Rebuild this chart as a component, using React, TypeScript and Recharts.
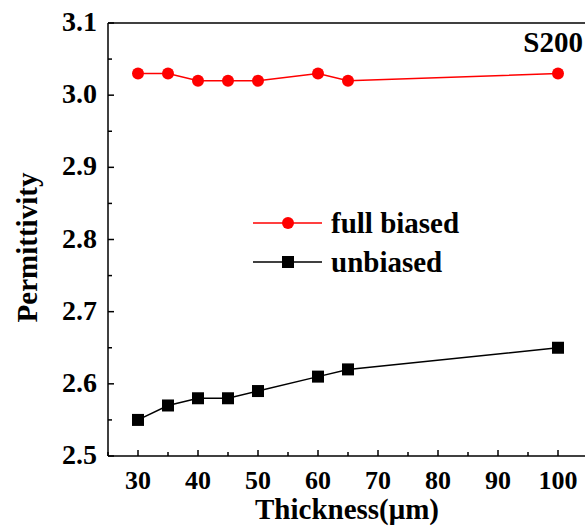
import { LineChart, Line, XAxis, YAxis, Legend, Label } from 'recharts';

const thickness = [30, 35, 40, 45, 50, 60, 65, 100];
const fullBiased = [3.03, 3.03, 3.02, 3.02, 3.02, 3.03, 3.02, 3.03];
const unbiased = [2.55, 2.57, 2.58, 2.58, 2.59, 2.61, 2.62, 2.65];

const xTicks = [25, 30, 35, 40, 45, 50, 55, 60, 65, 70, 75, 80, 85, 90, 95, 100, 105];
const yTicks = [2.5, 2.55, 2.6, 2.65, 2.7, 2.75, 2.8, 2.85, 2.9, 2.95, 3.0, 3.05, 3.1];

const FONT = 'Liberation Serif, Times New Roman, DejaVu Serif, serif';

const data = thickness.map((t, i) => ({
  t,
  full: fullBiased[i],
  unb: unbiased[i],
}));

const txt = { fontFamily: FONT, fontWeight: 700 };

// ticks point inward, labels only on the major ones
function XTick(props: any) {
  const { x, y, payload } = props;
  const major = Math.round(payload.value) % 10 === 0;
  return (
    <g>
      <line x1={x} x2={x} y1={y} y2={y - (major ? 6 : 4)} stroke="#000" strokeWidth={1.5} />
      {major && (
        <text x={x} y={y + 33} textAnchor="middle" style={txt} fontSize={26} fill="#000">
          {payload.value}
        </text>
      )}
    </g>
  );
}

function YTick(props: any) {
  const { x, y, payload } = props;
  const major = Math.round(payload.value * 100) % 10 === 0;
  return (
    <g>
      <line x1={x} x2={x + (major ? 6 : 4)} y1={y} y2={y} stroke="#000" strokeWidth={1.5} />
      {major && (
        <text x={x - 11} y={y + 8} textAnchor="end" style={txt} fontSize={28} fill="#000">
          {payload.value.toFixed(1)}
        </text>
      )}
    </g>
  );
}

function SquareDot(props: any) {
  const { cx, cy } = props;
  if (cx == null || cy == null) return null;
  return <rect x={cx - 6} y={cy - 6} width={12} height={12} fill="#000" />;
}

function LegendBox() {
  const rows = [
    { name: 'full biased', color: '#ff0000', shape: 'circle' },
    { name: 'unbiased', color: '#000', shape: 'square' },
  ];
  return (
    <svg width={240} height={80}>
      {rows.map((r, i) => {
        const y = 16 + i * 39;
        return (
          <g key={r.name}>
            <line x1={3} x2={72} y1={y} y2={y} stroke={r.color} strokeWidth={1.5} />
            {r.shape === 'circle' ? (
              <circle cx={38} cy={y} r={6} fill={r.color} />
            ) : (
              <rect x={32} y={y - 6} width={12} height={12} fill={r.color} />
            )}
            <text x={81} y={y + 10} style={txt} fontSize={29} fill="#000">
              {r.name}
            </text>
          </g>
        );
      })}
    </svg>
  );
}

export default function App() {
  return (
    <div style={{ position: 'absolute', left: 0, top: 0, width: 585, height: 530, overflow: 'hidden', background: '#fff' }}>
      <LineChart width={600} height={530} data={data} margin={{ top: 0, right: 12, bottom: 0, left: 0 }}>
        <XAxis
          xAxisId="top"
          orientation="top"
          dataKey="t"
          type="number"
          domain={[25, 105]}
          ticks={[]}
          height={23}
          axisLine={{ stroke: '#000', strokeWidth: 1.5 }}
          tickLine={false}
          tick={false}
        >
          <Label
            content={(p: any) => {
              const vb = p.viewBox;
              return (
                <text x={vb.x + 475} y={52} textAnchor="end" style={txt} fontSize={29} fill="#000">
                  S200
                </text>
              );
            }}
          />
        </XAxis>
        <XAxis
          dataKey="t"
          type="number"
          domain={[25, 105]}
          ticks={xTicks}
          interval={0}
          height={74}
          tickSize={0}
          tickMargin={0}
          tickLine={false}
          axisLine={{ stroke: '#000', strokeWidth: 1.5 }}
          tick={<XTick />}
        >
          <Label
            content={(p: any) => {
              const vb = p.viewBox;
              return (
                <text x={vb.x + vb.width / 2 - 1} y={519} textAnchor="middle" style={txt} fontSize={29} fill="#000">
                  Thickness(μm)
                </text>
              );
            }}
          />
        </XAxis>
        <YAxis
          type="number"
          domain={[2.5, 3.1]}
          ticks={yTicks}
          interval={0}
          width={108}
          tickSize={0}
          tickMargin={0}
          tickLine={false}
          axisLine={{ stroke: '#000', strokeWidth: 1.5 }}
          tick={<YTick />}
        >
          <Label
            content={(p: any) => {
              const vb = p.viewBox;
              const cy = vb.y + vb.height / 2 + 8;
              return (
                <text
                  x={37}
                  y={cy}
                  transform={`rotate(-90, 37, ${cy})`}
                  textAnchor="middle"
                  style={txt}
                  fontSize={29}
                  fill="#000"
                >
                  Permittivity
                </text>
              );
            }}
          />
        </YAxis>
        <Legend
          layout="horizontal"
          verticalAlign="middle"
          align="center"
          content={<LegendBox />}
          wrapperStyle={{ position: 'absolute', left: 250, top: 207, width: 240, height: 80 }}
        />
        <Line
          dataKey="full"
          name="full biased"
          stroke="#ff0000"
          strokeWidth={1.5}
          dot={{ r: 6, fill: '#ff0000', stroke: 'none' }}
          isAnimationActive={false}
        />
        <Line
          dataKey="unb"
          name="unbiased"
          stroke="#000"
          strokeWidth={1.5}
          dot={<SquareDot />}
          isAnimationActive={false}
        />
      </LineChart>
    </div>
  );
}
